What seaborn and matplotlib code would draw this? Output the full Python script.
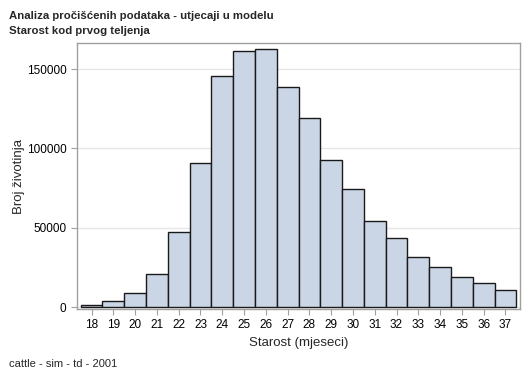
import pandas as pd
import matplotlib
matplotlib.use("Agg")
from matplotlib import pyplot as plt
import seaborn as sns

ages = [18, 19, 20, 21, 22, 23, 24, 25, 26, 27, 28, 29, 30, 31, 32, 33, 34, 35, 36, 37]
counts = [1300, 3800, 9000, 21000, 47600, 90600, 145500, 161600, 162900, 138600,
          119500, 92500, 74500, 54300, 43600, 31500, 25200, 18900, 15300, 10900]
yticks = [0, 50000, 100000, 150000]

df = pd.DataFrame({'age': [str(a) for a in ages], 'count': counts})

sns.set_style('white')
plt.rcParams['font.family'] = ['Liberation Sans', 'DejaVu Sans']

fig = plt.figure(figsize=(5.29, 3.78), dpi=100)
ax = fig.add_axes([77 / 529, 1 - 309 / 378, 443 / 529, 266 / 378])

sns.barplot(x='age', y='count', data=df, ax=ax, color='#CAD5E5', width=1.0,
            edgecolor='#1a1a1a', linewidth=1.0, saturation=1, errorbar=None)

ax.set_xlim(-0.67, 19.67)
ax.set_ylim(-1200, 166500)
ax.set_yticks(yticks)
ax.set_yticklabels([str(v) for v in yticks])
ax.yaxis.grid(True, color='#E6E6E6', linewidth=1)
ax.set_axisbelow(True)
for s in ax.spines.values():
    s.set_color('#A0A0A0')
    s.set_linewidth(1)
ax.tick_params(axis='both', which='major', labelsize=8.5, colors='#A0A0A0',
               labelcolor='black', length=4, width=0.8, direction='out',
               bottom=True, left=True)
ax.set_xlabel('Starost (mjeseci)', fontsize=9.5, labelpad=4)
ax.set_ylabel('Broj životinja', fontsize=9.5, labelpad=1)

fig.text(9 / 529, 1 - 16 / 378, 'Analiza pročišćenih podataka - utjecaji u modelu',
         fontsize=8.2, fontweight='bold', ha='left', va='center')
fig.text(9 / 529, 1 - 31 / 378, 'Starost kod prvog teljenja',
         fontsize=8.2, fontweight='bold', ha='left', va='center')
fig.text(9 / 529, 1 - 364 / 378, 'cattle - sim - td - 2001', fontsize=8,
         ha='left', va='center')

fig.savefig('out.png', dpi=100)
